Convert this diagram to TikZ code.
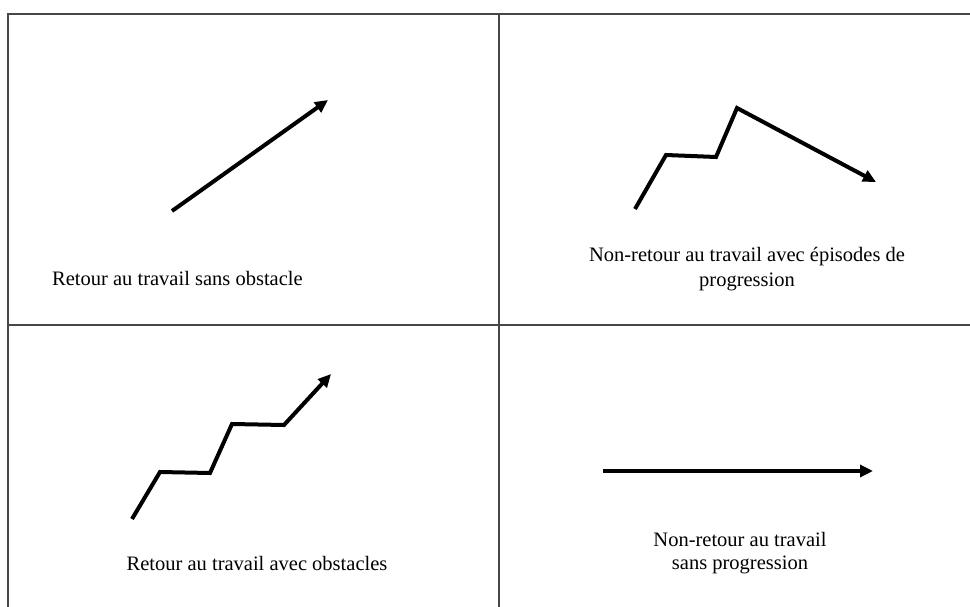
\documentclass[tikz,border=0pt]{standalone}
\usepackage{fontspec}
\setmainfont{Liberation Serif}
\usetikzlibrary{arrows.meta}
\begin{document}
\begin{tikzpicture}[x=1pt,y=-1pt,
  frame/.style={line width=1.4pt,draw=black!72},
  trend/.style={line width=4pt,-{Triangle[length=13pt,width=12pt]}},
  flat/.style={line width=4pt},
  lbl/.style={font=\fontsize{20.5}{24}\selectfont,inner sep=0pt,align=center}]
\useasboundingbox (0,0) rectangle (970,607);
% table frame
\draw[frame] (970,14) -- (8,14) -- (8,607);
\draw[frame] (499,14) -- (499,607);
\draw[frame] (8,325) -- (970,325);
% top-left: straight rise
\coordinate (a0) at (172,211);
\coordinate (a1) at (328,100);
\draw[trend] (a0) -- (a1);
\node[lbl,anchor=base west] (t1) at (52,285) {Retour au travail sans obstacle};
% top-right: rise then fall
\coordinate (b0) at (635,209);
\coordinate (b1) at (666,155);
\coordinate (b2) at (716,157);
\coordinate (b3) at (737,108);
\coordinate (b4) at (876,182);
\draw[trend] (b0) -- (b1) -- (b2) -- (b3) -- (b4);
\node[lbl,anchor=base] (t2a) at (747,261) {Non-retour au travail avec épisodes de};
\node[lbl,anchor=base] (t2b) at (747,286) {progression};
% bottom-left: staircase rise
\coordinate (c0) at (132,519);
\coordinate (c1) at (160,472);
\coordinate (c2) at (210,473);
\coordinate (c3) at (232,424);
\coordinate (c4) at (284,425);
\coordinate (c5) at (331,374);
\draw[trend] (c0) -- (c1) -- (c2) -- (c3) -- (c4) -- (c5);
\node[lbl,anchor=base] (t3) at (257,570) {Retour au travail avec obstacles};
% bottom-right: flat
\coordinate (d0) at (603,471);
\coordinate (d1) at (873,471);
\draw[trend] (d0) -- (d1);
\node[lbl,anchor=base] (t4a) at (740,546) {Non-retour au travail};
\node[lbl,anchor=base] (t4b) at (740,569) {sans progression};
\end{tikzpicture}
\end{document}
